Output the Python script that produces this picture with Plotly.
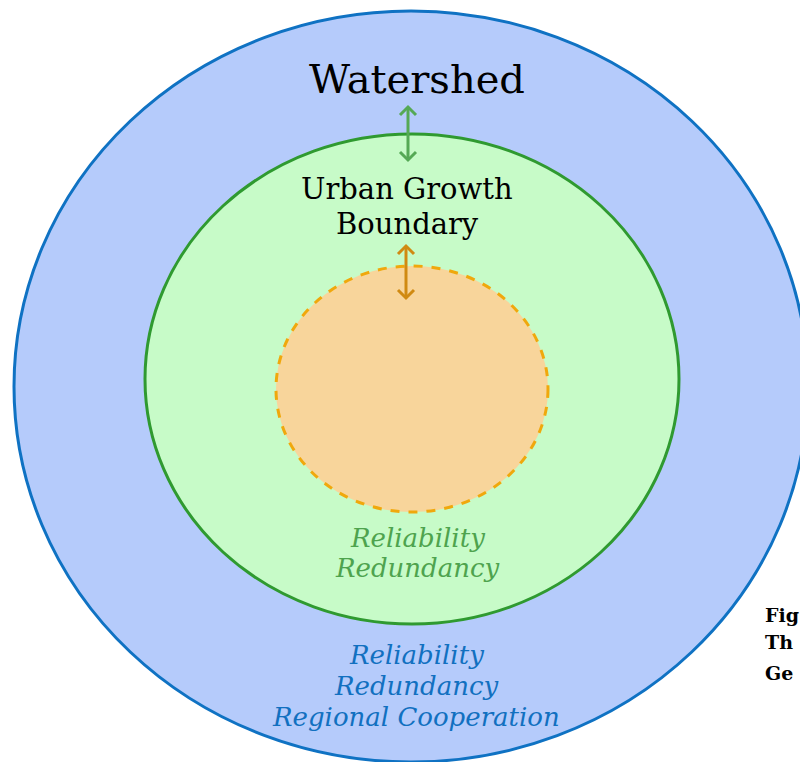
import plotly.graph_objects as go

# Ellipse bounds (x0, y0, x1, y1) in pixel-like data units
ring_names = ["Watershed", "Urban Growth Boundary", "Core"]
ring_x0 = [14, 145, 276]
ring_x1 = [808, 679, 548]
ring_y0 = [11, 134, 266]
ring_y1 = [762, 624, 512]
ring_fill = ["#b5cbfb", "#c7fbc8", "#f8d59b"]
ring_line = ["#0f72c3", "#2f9a30", "#f0a80c"]
ring_dash = ["solid", "solid", "dash"]

# Double arrows (x, y_top, y_bottom)
arrow_x = [408, 406]
arrow_top = [107, 246]
arrow_bot = [160, 298]
arrow_color = ["#55a955", "#d08a12"]
arrow_head = 8

# Labels (one entry per line)
label_text = ["Watershed", "Urban Growth", "Boundary",
              "Reliability", "Redundancy",
              "Reliability", "Redundancy", "Regional Cooperation"]
label_x = [417, 407, 407, 417, 417, 416, 416, 416]
label_y = [79, 189, 224, 538, 568, 655, 686, 717]
label_size = [40, 29, 29, 26, 26, 26, 26, 26]
label_color = ["#000000", "#000000", "#000000",
               "#4ea34e", "#4ea34e",
               "#1170c0", "#1170c0", "#1170c0"]
label_italic = [False, False, False, True, True, True, True, True]

# Partially visible caption at the right edge (as shown in the reference)
side_text = ["Fig", "Th", "Ge"]
side_y = [615, 642, 673]

fig = go.Figure()

for i in range(len(ring_names)):
    fig.add_shape(type="circle", xref="x", yref="y",
                  x0=ring_x0[i], x1=ring_x1[i], y0=ring_y0[i], y1=ring_y1[i],
                  fillcolor=ring_fill[i],
                  line=dict(color=ring_line[i], width=3, dash=ring_dash[i]),
                  layer="below")

for i in range(len(arrow_x)):
    x, t, b, h = arrow_x[i], arrow_top[i], arrow_bot[i], arrow_head
    xs = [x, x, None, x - h, x, x + h, None, x - h, x, x + h]
    ys = [t, b, None, t + h, t, t + h, None, b - h, b, b - h]
    fig.add_trace(go.Scatter(x=xs, y=ys, mode="lines", hoverinfo="skip",
                             line=dict(color=arrow_color[i], width=3)))

for i in range(len(label_text)):
    t = label_text[i]
    if label_italic[i]:
        t = "<i>" + t + "</i>"
    fig.add_annotation(x=label_x[i], y=label_y[i], xref="x", yref="y",
                       text=t, showarrow=False, xanchor="center", yanchor="middle",
                       font=dict(family="DejaVu Serif", size=label_size[i], color=label_color[i]))

for i in range(len(side_text)):
    fig.add_annotation(x=763, y=side_y[i], xref="x", yref="y",
                       text="<b>" + side_text[i] + "</b>", showarrow=False,
                       xanchor="left", yanchor="middle",
                       font=dict(family="DejaVu Serif", size=19, color="#000000"))

fig.update_layout(width=800, height=762, margin=dict(l=0, r=0, t=0, b=0),
                  paper_bgcolor="white", plot_bgcolor="white", showlegend=False)
fig.update_xaxes(range=[0, 800], visible=False, fixedrange=True)
fig.update_yaxes(range=[762, 0], visible=False, fixedrange=True)

fig.write_html("out.html", config={"displayModeBar": False},
               post_script="document.body.style.margin='0';document.body.style.overflow='hidden';")
